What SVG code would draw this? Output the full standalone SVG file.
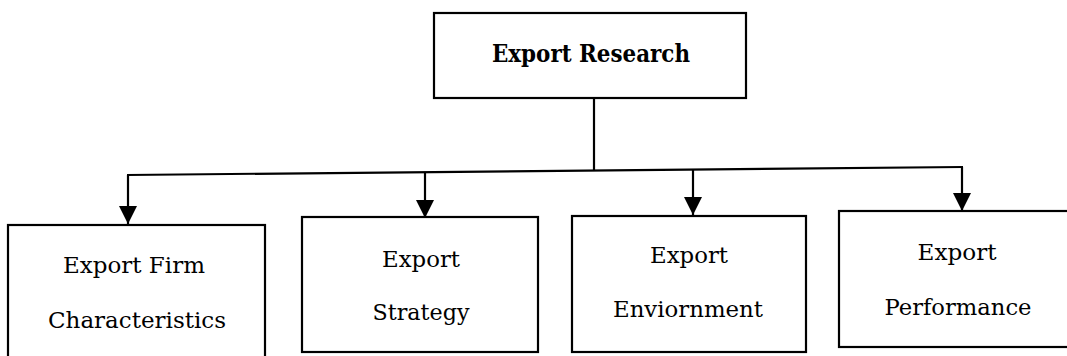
<svg xmlns="http://www.w3.org/2000/svg" width="1067" height="356" viewBox="0 0 1067 356">
  <style>
    .box { fill: #ffffff; stroke: #000000; stroke-width: 2.2; }
    .wire { fill: none; stroke: #000000; stroke-width: 2.2; }
    .label { font-family: "DejaVu Serif", "Liberation Serif", serif; font-size: 21.5px; fill: #000000; text-anchor: middle; }
    .title { font-family: "DejaVu Serif", "Liberation Serif", serif; font-size: 24px; font-weight: bold; fill: #000000; text-anchor: middle; }
  </style>
  <defs>
    <marker id="arrow" viewBox="0 0 10 10" refX="10" refY="5" markerUnits="userSpaceOnUse" markerWidth="18" markerHeight="19" orient="auto">
      <path d="M0,0 L10,5 L0,10 z" fill="#000000"/>
    </marker>
  </defs>
  <rect width="1067" height="356" fill="#ffffff"/>

  <!-- connectors: stem from the root, bus line, and drops to each child -->
  <g id="connectors">
    <line class="wire" x1="594" y1="98" x2="594" y2="170.5"/>
    <line class="wire" x1="127" y1="175" x2="963" y2="167"/>
    <line class="wire" x1="128" y1="175" x2="128" y2="224" marker-end="url(#arrow)"/>
    <line class="wire" x1="425" y1="172.2" x2="425" y2="218" marker-end="url(#arrow)"/>
    <line class="wire" x1="693" y1="169.6" x2="693" y2="215" marker-end="url(#arrow)"/>
    <line class="wire" x1="962" y1="167" x2="962" y2="211" marker-end="url(#arrow)"/>
  </g>

  <g id="export-research">
    <rect class="box" x="434" y="13" width="312" height="85"/>
    <text class="title" x="591" y="62" textLength="198" lengthAdjust="spacingAndGlyphs">Export Research</text>
  </g>

  <g id="firm-characteristics">
    <rect class="box" x="8" y="225" width="257" height="145"/>
    <text class="label" x="134" y="273" textLength="142" lengthAdjust="spacingAndGlyphs">Export Firm</text>
    <text class="label" x="137" y="328" textLength="178" lengthAdjust="spacingAndGlyphs">Characteristics</text>
  </g>

  <g id="export-strategy">
    <rect class="box" x="302" y="217" width="236" height="135"/>
    <text class="label" x="421" y="267" textLength="78" lengthAdjust="spacingAndGlyphs">Export</text>
    <text class="label" x="421" y="320" textLength="97" lengthAdjust="spacingAndGlyphs">Strategy</text>
  </g>

  <g id="export-environment">
    <rect class="box" x="572" y="216" width="234" height="136"/>
    <text class="label" x="689" y="263" textLength="78" lengthAdjust="spacingAndGlyphs">Export</text>
    <text class="label" x="688" y="317" textLength="150" lengthAdjust="spacingAndGlyphs">Enviornment</text>
  </g>

  <g id="export-performance">
    <rect class="box" x="839" y="211" width="240" height="136"/>
    <text class="label" x="957" y="260" textLength="79" lengthAdjust="spacingAndGlyphs">Export</text>
    <text class="label" x="958" y="315" textLength="147" lengthAdjust="spacingAndGlyphs">Performance</text>
  </g>
</svg>
